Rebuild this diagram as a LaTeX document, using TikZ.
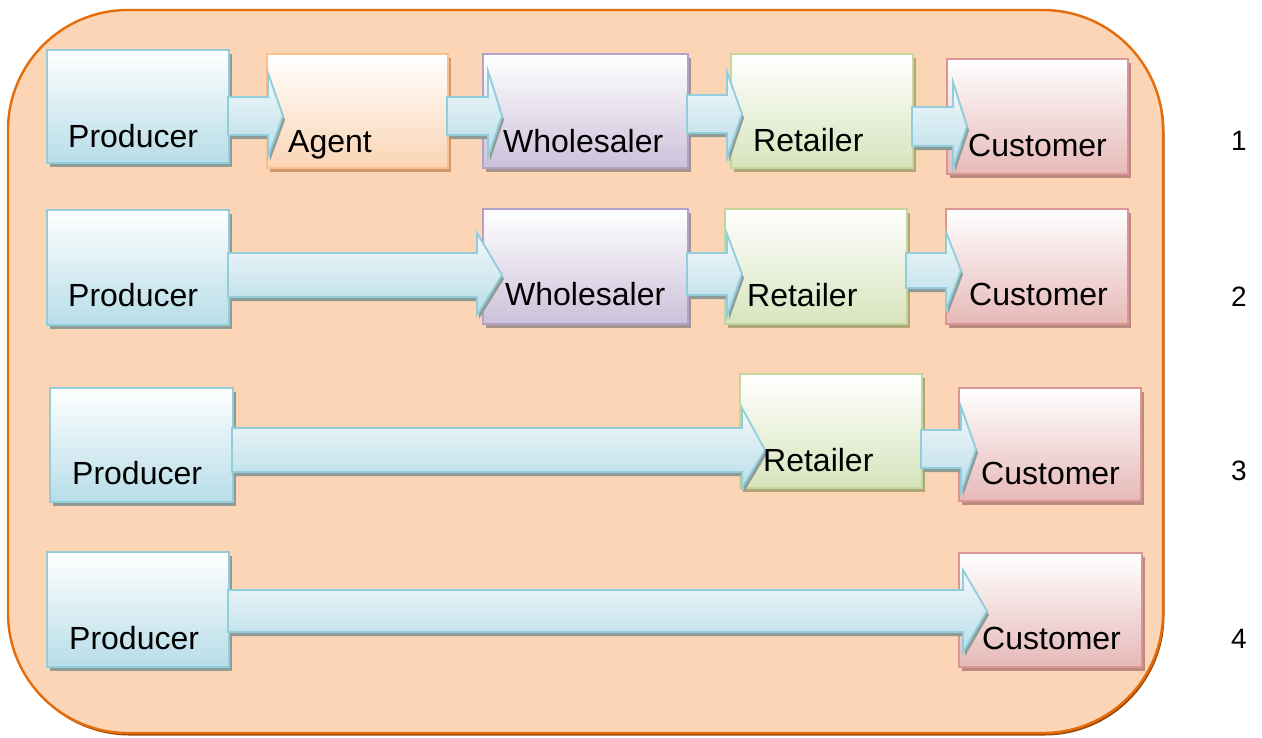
\documentclass[tikz,border=0pt]{standalone}
\usepackage{fontspec}
\setmainfont{Liberation Sans}
\usetikzlibrary{shadows,calc}

\definecolor{panelfill}{HTML}{FBD5B5}
\definecolor{panelline}{HTML}{E46C0A}
\definecolor{panelshade}{HTML}{984806}
\definecolor{prodline}{HTML}{92CDDC}
\definecolor{prodfill}{HTML}{B7DDE8}
\definecolor{prodshade}{HTML}{8F9C95}
\definecolor{agentline}{HTML}{FAC090}
\definecolor{agentfill}{HTML}{FBD4B4}
\definecolor{agentshade}{HTML}{D19A6E}
\definecolor{wholeline}{HTML}{B3A2C7}
\definecolor{wholefill}{HTML}{CCC1DA}
\definecolor{wholeshade}{HTML}{A6958B}
\definecolor{retline}{HTML}{C3D69B}
\definecolor{retfill}{HTML}{D7E4BD}
\definecolor{retshade}{HTML}{B1A67A}
\definecolor{custline}{HTML}{D99694}
\definecolor{custfill}{HTML}{E6B9B8}
\definecolor{custshade}{HTML}{BA8A7E}
\definecolor{flowtop}{HTML}{F4F9FB}

\tikzset{
  stage/.style n args={3}{draw=#1, top color=white, bottom color=#2,
    line width=1.8pt, inner sep=0pt, outer sep=0pt,
    drop shadow={shadow xshift=3pt, shadow yshift=-4pt, opacity=1, fill=#3}},
  producer/.style={stage={prodline}{prodfill}{prodshade}},
  agent/.style={stage={agentline}{agentfill}{agentshade}},
  wholesaler/.style={stage={wholeline}{wholefill}{wholeshade}},
  retailer/.style={stage={retline}{retfill}{retshade}},
  customer/.style={stage={custline}{custfill}{custshade}},
  lbl/.style={font=\fontsize{32}{38}\selectfont, inner sep=0pt, anchor=base west},
  rowno/.style={font=\fontsize{28}{34}\selectfont, inner sep=0pt, anchor=base west},
  flowarrow/.style={draw=prodline, line width=1.8pt, line join=miter,
    top color=flowtop, bottom color=prodfill,
    drop shadow={shadow xshift=2pt, shadow yshift=-4pt, opacity=1, fill=prodshade}},
}

% box between two corners: name, style, x1, y1, x2, y2 (y grows downward)
\newcommand\stagebox[6]{%
  \node[#2, minimum width={#5-#3}, minimum height={#6-#4}]
    (#1) at ({(#3+#5)/2},{(#4+#6)/2}) {};}

% block arrow from the east side of #1 into #2:
% body top/bottom #3/#4, head top/bottom #5/#6,
% head base and tip as offsets #7/#8 from the west side of #2
\newcommand\flow[8]{%
  \path[flowarrow] let \p1=(#1.east), \p2=(#2.west) in
    (\x1-1pt,#3) -- (\x2+#7pt,#3) -- (\x2+#7pt,#5)
    -- (\x2+#8pt,{(#3+#4)/2}) -- (\x2+#7pt,#6) -- (\x2+#7pt,#4)
    -- (\x1-1pt,#4) -- cycle;}

\begin{document}
\begin{tikzpicture}[x=1pt,y=-1pt]
\useasboundingbox (0,0) rectangle (1262,737);

% background panel
\draw[fill=panelfill, draw=panelline, line width=2.4pt, rounded corners=120pt,
  drop shadow={shadow xshift=1.5pt, shadow yshift=-2.5pt, opacity=1, fill=panelshade}]
  (8,10) rectangle (1163,733);

% row 1
\stagebox{P1}{producer}{47}{50}{229}{163}
\stagebox{A1}{agent}{267}{54}{448}{168}
\stagebox{W1}{wholesaler}{483}{54}{688}{168}
\stagebox{R1}{retailer}{731}{54}{913}{168}
\stagebox{C1}{customer}{947}{59}{1128}{174}
% row 2
\stagebox{P2}{producer}{47}{210}{229}{325}
\stagebox{W2}{wholesaler}{483}{209}{688}{324}
\stagebox{R2}{retailer}{725}{209}{907}{324}
\stagebox{C2}{customer}{946}{209}{1128}{324}
% row 3
\stagebox{P3}{producer}{50}{388}{233}{502}
\stagebox{R3}{retailer}{740}{374}{922}{488}
\stagebox{C3}{customer}{959}{388}{1141}{501}
% row 4
\stagebox{P4}{producer}{47}{552}{229}{667}
\stagebox{C4}{customer}{959}{553}{1142}{667}

% flows
\flow{P1}{A1}{97}{135}{73}{157}{1}{16}
\flow{A1}{W1}{97}{135}{71}{157}{5}{19}
\flow{W1}{R1}{95}{133}{72}{158}{-4}{11}
\flow{R1}{C1}{107}{146}{82}{168}{6}{20}
\flow{P2}{W2}{253}{297}{233}{315}{-6}{19}
\flow{W2}{R2}{253}{295}{234}{316}{2}{17}
\flow{R2}{C2}{253}{288}{232}{310}{0}{15}
\flow{P3}{R3}{428}{472}{408}{488}{2}{25}
\flow{R3}{C3}{430}{468}{407}{492}{2}{17}
\flow{P4}{C4}{590}{632}{570}{652}{4}{28}

% labels
\node[lbl] (P1t) at (68,147) {Producer};
\node[lbl] (A1t) at (288,152) {Agent};
\node[lbl] (W1t) at (503,152) {Wholesaler};
\node[lbl] (R1t) at (753,151) {Retailer};
\node[lbl] (C1t) at (968,156) {Customer};
\node[lbl] (P2t) at (68,306) {Producer};
\node[lbl] (W2t) at (505,305) {Wholesaler};
\node[lbl] (R2t) at (747,306) {Retailer};
\node[lbl] (C2t) at (969,305) {Customer};
\node[lbl] (P3t) at (72,484) {Producer};
\node[lbl] (R3t) at (763,471) {Retailer};
\node[lbl] (C3t) at (981,484) {Customer};
\node[lbl] (P4t) at (69,649) {Producer};
\node[lbl] (C4t) at (982,649) {Customer};

% row numbers
\node[rowno] (n1) at (1231,150) {1};
\node[rowno] (n2) at (1231,306) {2};
\node[rowno] (n3) at (1231,480) {3};
\node[rowno] (n4) at (1231,648) {4};
\end{tikzpicture}
\end{document}
